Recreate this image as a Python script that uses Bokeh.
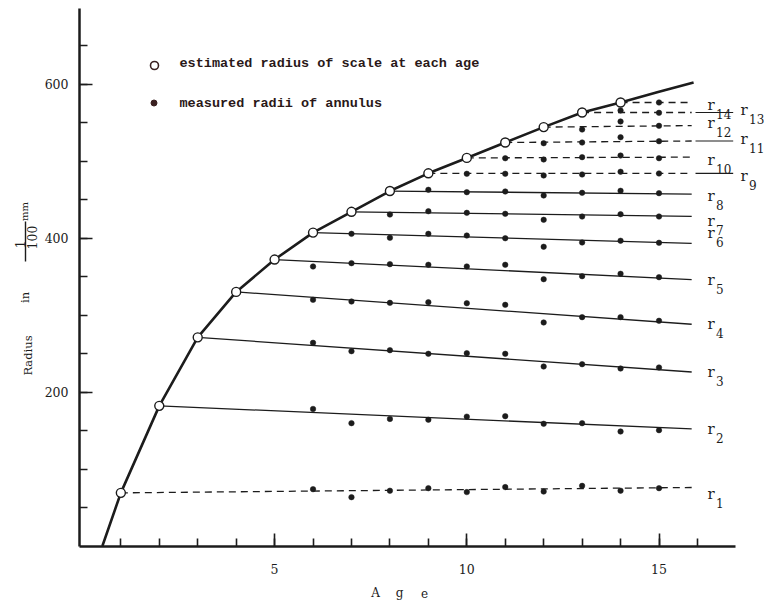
import math
from bokeh.plotting import figure
from bokeh.models import Range1d, FixedTicker, Label, LabelSet, ColumnDataSource
from bokeh.core.properties import value
from bokeh.embed import file_html
from bokeh.resources import INLINE

# ---------------- data ----------------
est_ages = [1, 2, 3, 4, 5, 6, 7, 8, 9, 10, 11, 12, 13, 14]
est_radius = [69, 182, 271, 330, 372, 407, 434, 461, 484, 504, 524, 544, 563, 576]

curve_ages = [0.52] + est_ages + [15.0, 15.9]
curve_radius = [0] + est_radius + [590, 602]

line_end_age = 15.85
line_end_radius = [76, 152, 226, 288, 346, 393, 428, 457, 484, 505, 526, 546, 563, 576]
dashed_lines = [1, 9, 10, 11, 12, 13, 14]

meas_start_age = [6, 6, 6, 6, 6, 7, 8, 9, 10, 11, 12, 13, 14, 15]
r1_meas = [73.8, 63.4, 71.8, 75.1, 70.0, 76.5, 70.7, 78.1, 71.8, 75.1]
r2_meas = [178, 159.5, 165, 164, 168, 168.6, 158.7, 159.5, 148.7, 150.4]
r3_meas = [263.9, 253, 254.3, 249.6, 250.4, 249.6, 233.1, 236.1, 230.5, 231.8]
r4_meas = [319.7, 317.5, 315.8, 316.6, 315.3, 313.2, 290.3, 297.2, 297.2, 292.5]
r5_meas = [363, 367.3, 366, 365.2, 363, 365.2, 346.5, 350.4, 353.5, 349.1]
r6_meas = [405.4, 400.3, 405.4, 403.2, 399.7, 388.6, 394.2, 396.4, 393.8]
r7_meas = [430.5, 434.8, 432.7, 431.4, 423.6, 427.9, 430.9, 427.9]
r8_meas = [462.6, 459.5, 460.4, 455.2, 458.7, 461.3, 458.2]
r9_meas = [483.4, 483.4, 481.2, 482.5, 486.0, 483.8]
r10_meas = [503.6, 502.0, 505.0, 507.1, 503.6]
r11_meas = [523.1, 524.0, 530.9, 525.7]
r12_meas = [540.9, 551.3, 545.7]
r13_meas = [565.6, 562.6]
r14_meas = [576]
measured = [r1_meas, r2_meas, r3_meas, r4_meas, r5_meas, r6_meas, r7_meas,
            r8_meas, r9_meas, r10_meas, r11_meas, r12_meas, r13_meas, r14_meas]

x_ticks = [5, 10, 15]
x_minor = list(range(1, 17))
y_ticks = [200, 400, 600]
y_minor = list(range(50, 700, 50))
x_axis_extent = (-0.075, 16.99)
y_axis_extent = (0, 698)

legend_texts = ["estimated radius of scale at each age", "measured radii of annulus"]

# ---------------- figure geometry ----------------
INK = "#1c1c1c"
W, H = 764, 602
PXX = 38.44          # pixels per year
PXY = 0.770          # pixels per 1/100 mm
ORIGIN_PX = (81.9, 545.5)
X0 = -ORIGIN_PX[0] / PXX
X1 = X0 + W / PXX
Y1 = ORIGIN_PX[1] / PXY
Y0 = Y1 - H / PXY


def dx(px):
    return X0 + px / PXX


def dy(py):
    return Y1 - py / PXY


p = figure(width=W, height=H, x_range=Range1d(X0, X1), y_range=Range1d(Y0, Y1),
           output_backend="svg", toolbar_location=None,
           min_border_left=0, min_border_right=0, min_border_top=0, min_border_bottom=0)
p.grid.visible = False
p.outline_line_color = None
p.background_fill_color = "white"
p.border_fill_color = "white"

p.xaxis.fixed_location = 0
p.yaxis.fixed_location = x_axis_extent[0]
p.xaxis.bounds = x_axis_extent
p.yaxis.bounds = y_axis_extent

for ax, ticks, minor, standoff in ((p.xaxis, x_ticks, x_minor, 18), (p.yaxis, y_ticks, y_minor, 11)):
    ax.ticker = FixedTicker(ticks=ticks, minor_ticks=minor)
    ax.axis_line_width = 2.5
    ax.axis_line_color = INK
    ax.major_tick_in = 13
    ax.major_tick_out = 0
    ax.minor_tick_in = 8
    ax.minor_tick_out = 0
    ax.major_tick_line_width = 1.6
    ax.minor_tick_line_width = 1.6
    ax.major_tick_line_color = INK
    ax.minor_tick_line_color = INK
    ax.major_label_text_font = "DejaVu Serif"
    ax.major_label_text_font_size = "12.5px"
    ax.major_label_text_color = INK
    ax.major_label_standoff = standoff

# annulus lines
for i, (r0, r1) in enumerate(zip(est_radius, line_end_radius)):
    n = i + 1
    dash = "7 5" if n in dashed_lines else "solid"
    p.line([est_ages[i], line_end_age], [r0, r1], line_color=INK, line_width=1.3, line_dash=dash)

# leader lines for the far labels
for n in (9, 11, 13):
    yv = line_end_radius[n - 1]
    p.line([line_end_age + 0.1, line_end_age + 1.08], [yv, yv], line_color=INK, line_width=1.2)

# growth curve
p.line(curve_ages, curve_radius, line_color=INK, line_width=2.6)

# measured radii
mx, my = [], []
for start, vals in zip(meas_start_age, measured):
    for k, v in enumerate(vals):
        mx.append(start + k)
        my.append(v)
p.scatter(mx, my, size=5.5, marker="circle", fill_color=INK, line_color=INK, line_width=0.5)

# estimated radii
p.scatter(est_ages, est_radius, size=9, marker="circle", fill_color="white",
          line_color=INK, line_width=1.4)

# ---------------- legend ----------------
p.scatter([dx(154)], [dy(65)], size=8, marker="circle",
          fill_color="white", line_color="#3a2020", line_width=1.6)
p.scatter([dx(153.5)], [dy(102.5)], size=6, marker="circle",
          fill_color="#3a2020", line_color="#3a2020")
for txt, py in zip(legend_texts, (62.7, 102.7)):
    p.add_layout(Label(x=dx(179), y=dy(py), text=txt,
                       text_font="Liberation Mono", text_font_style="bold",
                       text_font_size="13.5px", text_color="#2a1818",
                       text_baseline="middle", text_align="left"))

# ---------------- r labels ----------------
label_dy = [7, 0, 0, 0, 0, -10, 5, 2, 3, 3, -2, -2.5, -2, 3]
far = [9, 11, 13]
lab_x, lab_y, sub_x, sub_y, rtxt, stxt = [], [], [], [], [], []
for i, ye in enumerate(line_end_radius):
    n = i + 1
    base_px = 707 + (33 if n in far else 0)
    ax_ = dx(base_px)
    ay_ = ye - label_dy[i] / PXY
    lab_x.append(ax_)
    lab_y.append(ay_)
    sub_x.append(ax_ + 8.5 / PXX)
    sub_y.append(ay_ - 9 / PXY)
    rtxt.append("r")
    stxt.append(str(n))
src = ColumnDataSource(dict(lx=lab_x, ly=lab_y, sx=sub_x, sy=sub_y, r=rtxt, s=stxt))
p.add_layout(LabelSet(x="lx", y="ly", text="r", source=src, text_font=value("DejaVu Serif"),
                      text_font_size="15px", text_color=INK, text_baseline="middle",
                      text_align="left"))
p.add_layout(LabelSet(x="sx", y="sy", text="s", source=src, text_font=value("DejaVu Serif"),
                      text_font_size="12px", text_color=INK, text_baseline="middle",
                      text_align="left"))

# ---------------- axis titles ----------------
for ch, px in zip(["A", "g", "e"], [375, 399, 424]):
    p.add_layout(Label(x=dx(px), y=dy(592), text=ch, text_font="DejaVu Serif",
                       text_font_size="12px", text_color=INK,
                       text_align="center", text_baseline="middle"))

vert = [("Radius", 27.5, 355, "11.5px"), ("in", 24, 297, "11.5px"),
        ("1", 19.5, 244, "12px"), ("100", 31.5, 237, "12.5px"), ("mm", 23.5, 211, "10px")]
for txt, px, py, fs in vert:
    p.add_layout(Label(x=dx(px), y=dy(py), text=txt, text_font="DejaVu Serif",
                       text_font_size=fs, text_color=INK, angle=math.pi / 2,
                       text_align="center", text_baseline="middle"))
p.line([dx(25), dx(25)], [dy(221), dy(261)], line_color=INK, line_width=1.4)

open("out.html", "w").write(file_html(p, INLINE))
